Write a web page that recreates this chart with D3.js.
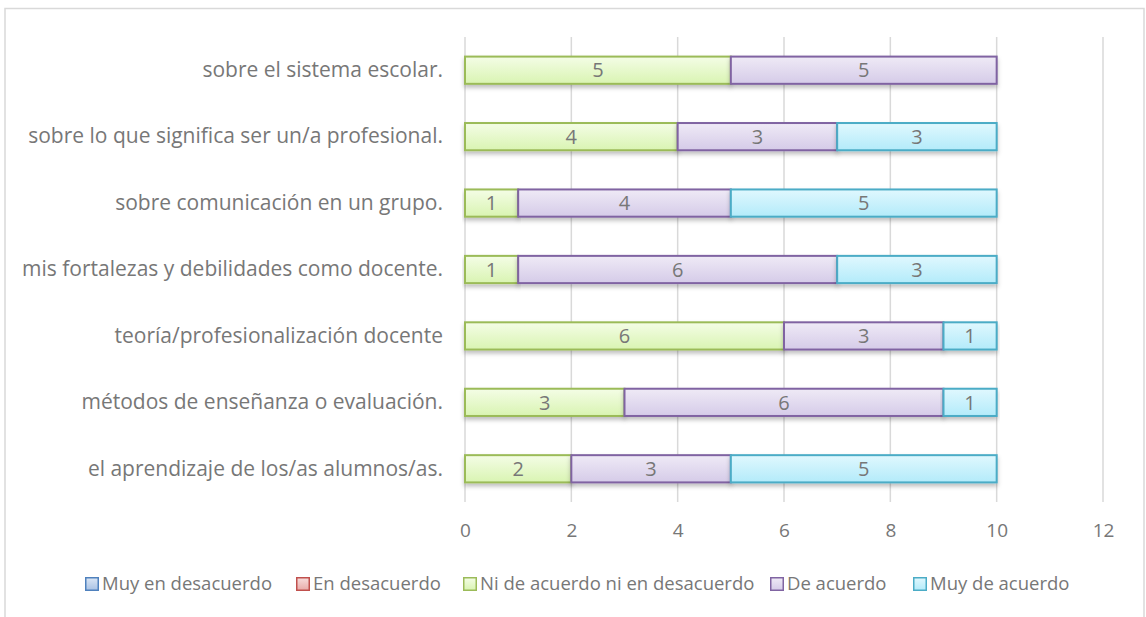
<!DOCTYPE html>
<html>
<head>
<meta charset="utf-8">
<script src="https://cdn.jsdelivr.net/npm/d3@7"></script>
<style>
  html, body { margin: 0; padding: 0; background: #fff; }
  svg { display: block; font-family: "Open Sans", Lato, sans-serif; }
</style>
</head>
<body>
<svg id="chart" width="1146" height="617"></svg>
<script>
// categories, top to bottom
const categories = [
  'sobre el sistema escolar.',
  'sobre lo que significa ser un/a profesional.',
  'sobre comunicación en un grupo.',
  'mis fortalezas y debilidades como docente.',
  'teoría/profesionalización docente',
  'métodos de enseñanza o evaluación.',
  'el aprendizaje de los/as alumnos/as.'
];
const seriesNames = ['Muy en desacuerdo', 'En desacuerdo', 'Ni de acuerdo ni en desacuerdo', 'De acuerdo', 'Muy de acuerdo'];
const muyDesacuerdo = [0, 0, 0, 0, 0, 0, 0];
const desacuerdo    = [0, 0, 0, 0, 0, 0, 0];
const niNi          = [5, 4, 1, 1, 6, 3, 2];
const deAcuerdo     = [5, 3, 4, 6, 3, 6, 3];
const muyAcuerdo    = [0, 3, 5, 3, 1, 1, 5];
const xTicks = [0, 2, 4, 6, 8, 10, 12];

const seriesValues = [muyDesacuerdo, desacuerdo, niNi, deAcuerdo, muyAcuerdo];
const colors = [
  { stroke: '#4f81bd', top: '#dbe6f5', bottom: '#a9c2e4' },
  { stroke: '#c0504d', top: '#f7dddc', bottom: '#e8aaa8' },
  { stroke: '#9bbb59', top: '#f4fde6', bottom: '#d9f4b2' },
  { stroke: '#8064a2', top: '#efeaf6', bottom: '#d5cbe8' },
  { stroke: '#4bacc6', top: '#e0f8fe', bottom: '#b3ebfa' }
];
const textColor = '#777';

const rows = categories.map((c, i) => {
  const r = { cat: c };
  seriesNames.forEach((s, j) => r[s] = seriesValues[j][i]);
  return r;
});
const stacked = d3.stack().keys(seriesNames)(rows);

const svg = d3.select('#chart');
svg.append('rect').attr('width', 1146).attr('height', 617).attr('fill', '#fff');
svg.append('rect')
  .attr('x', 5).attr('y', 8.5).attr('width', 1139).attr('height', 620)
  .attr('fill', 'none').attr('stroke', '#d9d9d9').attr('stroke-width', 1.5);

const defs = svg.append('defs');
colors.forEach((c, i) => {
  const g = defs.append('linearGradient').attr('id', 'grad' + i)
    .attr('x1', 0).attr('y1', 0).attr('x2', 0).attr('y2', 1);
  g.append('stop').attr('offset', '0%').attr('stop-color', c.top);
  g.append('stop').attr('offset', '100%').attr('stop-color', c.bottom);
});
const shadow = defs.append('filter').attr('id', 'shadow')
  .attr('x', '-5%').attr('y', '-20%').attr('width', '110%').attr('height', '160%');
shadow.append('feDropShadow')
  .attr('dx', 0).attr('dy', 3).attr('stdDeviation', 2)
  .attr('flood-color', '#000').attr('flood-opacity', 0.25);

const x = d3.scaleLinear().domain([0, 12]).range([465, 1103]);
const y = d3.scaleBand().domain(categories).range([37, 502])
  .paddingInner(0.59).paddingOuter(0.295);

// gridlines
svg.append('g').selectAll('line')
  .data(xTicks).join('line')
  .attr('x1', d => x(d)).attr('x2', d => x(d))
  .attr('y1', 37).attr('y2', 502)
  .attr('stroke', '#d9d9d9').attr('stroke-width', 1.5);

// x axis labels
const xAxis = svg.append('g').attr('transform', 'translate(0,520)')
  .call(d3.axisBottom(x).tickValues(xTicks).tickSize(0).tickPadding(3));
xAxis.select('.domain').remove();
xAxis.selectAll('text')
  .attr('fill', textColor).attr('font-size', 19)
  .attr('font-family', '"Open Sans", Lato, sans-serif');

// y axis labels
const yAxis = svg.append('g').attr('transform', 'translate(453,0)')
  .call(d3.axisLeft(y).tickSize(0).tickPadding(10));
yAxis.select('.domain').remove();
yAxis.selectAll('text')
  .attr('fill', textColor).attr('font-size', 21)
  .attr('font-family', '"Open Sans", Lato, sans-serif');

// bars
const layers = svg.append('g').selectAll('g')
  .data(stacked).join('g');
layers.selectAll('rect')
  .data((d, i) => d.map(p => ({ p, i, key: d.key })).filter(o => o.p[1] - o.p[0] > 0))
  .join('rect')
  .attr('x', o => x(o.p[0]))
  .attr('y', o => y(o.p.data.cat))
  .attr('width', o => x(o.p[1]) - x(o.p[0]))
  .attr('height', y.bandwidth())
  .attr('fill', o => `url(#grad${o.i})`)
  .attr('stroke', o => colors[o.i].stroke)
  .attr('stroke-width', 2)
  .attr('filter', 'url(#shadow)');

// data labels
layers.selectAll('text')
  .data((d, i) => d.map(p => ({ p, i })).filter(o => o.p[1] - o.p[0] > 0))
  .join('text')
  .attr('x', o => (x(o.p[0]) + x(o.p[1])) / 2)
  .attr('y', o => y(o.p.data.cat) + y.bandwidth() / 2)
  .attr('dy', '0.36em')
  .attr('text-anchor', 'middle')
  .attr('fill', textColor).attr('font-size', 20)
  .text(o => o.p[1] - o.p[0]);

// legend
const legendX = [85, 296, 463, 770, 913];
const legend = svg.append('g').selectAll('g')
  .data(seriesNames).join('g')
  .attr('transform', (d, i) => `translate(${legendX[i]},584)`);
legend.append('rect')
  .attr('x', 0.75).attr('y', -6.25).attr('width', 12.5).attr('height', 12.5)
  .attr('fill', (d, i) => `url(#grad${i})`)
  .attr('stroke', (d, i) => colors[i].stroke).attr('stroke-width', 1.5);
legend.append('text')
  .attr('x', 17).attr('dy', '0.35em')
  .attr('fill', textColor).attr('font-size', 18.5)
  .text(d => d);
</script>
</body>
</html>
